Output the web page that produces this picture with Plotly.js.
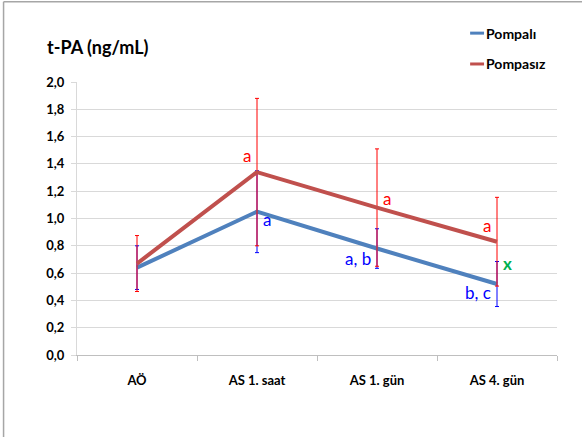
<!DOCTYPE html>
<html>
<head>
<meta charset="utf-8">
<script src="https://cdn.plot.ly/plotly-3.0.1.min.js"></script>
<style>html,body{margin:0;padding:0;background:#fff;}#chart{width:582px;height:448px;}</style>
</head>
<body>
<div id="chart"></div>
<script>
const categories = ["AÖ", "AS 1. saat", "AS 1. gün", "AS 4. gün"];
const seriesNames = ["Pompalı", "Pompasız"];
const pompaliValues = [0.64, 1.05, 0.78, 0.52];
const pompaliErrors = [0.16, 0.30, 0.145, 0.165];
const pompasizValues = [0.67, 1.34, 1.08, 0.83];
const pompasizErrors = [0.205, 0.54, 0.43, 0.325];
const yTickVals = [0, 0.2, 0.4, 0.6, 0.8, 1.0, 1.2, 1.4, 1.6, 1.8, 2.0];
const yTickText = ["0,0", "0,2", "0,4", "0,6", "0,8", "1,0", "1,2", "1,4", "1,6", "1,8", "2,0"];
const labels = [
  {cat: 1, y: 1.34, text: "a", color: "#FF0000", side: "left", dy: 0.12},
  {cat: 1, y: 1.05, text: "a", color: "#0000FF", side: "right", dy: -0.06},
  {cat: 2, y: 0.78, text: "a, b", color: "#0000FF", side: "left", dy: -0.07},
  {cat: 2, y: 1.08, text: "a", color: "#FF0000", side: "right", dy: 0.07},
  {cat: 3, y: 0.83, text: "a", color: "#FF0000", side: "left", dy: 0.12},
  {cat: 3, y: 0.52, text: "b, c", color: "#0000FF", side: "left", dy: -0.065},
  {cat: 3, y: 0.52, text: "x", color: "#00B050", side: "right", dy: 0.15}
];
const colors = ["#4F81BD", "#C0504D"];
const font = "Lato, 'Open Sans', sans-serif";

const traces = [
  {
    x: categories, y: pompaliValues, name: seriesNames[0], type: "scatter", mode: "lines",
    line: {color: colors[0], width: 4}, showlegend: false,
    error_y: {type: "data", array: pompaliErrors, visible: true, color: "#0000FF", thickness: 1, width: 2}
  },
  {
    x: categories, y: pompasizValues, name: seriesNames[1], type: "scatter", mode: "lines",
    line: {color: colors[1], width: 4}, showlegend: false,
    error_y: {type: "data", array: pompasizErrors, visible: true, color: "#FF0000", thickness: 1, width: 2}
  }
];

const annotations = labels.map(l => ({
  x: l.cat, y: l.y + l.dy, xref: "x", yref: "y", text: l.text, showarrow: false,
  xanchor: l.side === "left" ? "right" : "left", xshift: l.side === "left" ? -4 : 4,
  font: {family: font, size: 17, color: l.color, weight: l.text === "x" ? "bold" : "normal"}
}));
annotations.push({
  x: -0.066, y: 1.13, xref: "paper", yref: "paper", text: "<b>t-PA (ng/mL)</b>", showarrow: false,
  xanchor: "left", yanchor: "middle", font: {family: font, size: 18, color: "#000"}
});
// manual legend
const legendY = [1.179, 1.066];
const shapes = [
  {type: "line", xref: "paper", yref: "paper", x0: -0.153, x1: -0.153, y0: 1.294, y1: -0.3, line: {color: "#A6A6A6", width: 1.5}},
  {type: "line", xref: "paper", yref: "paper", x0: -0.153, x1: 1.1, y0: 1.294, y1: 1.294, line: {color: "#A6A6A6", width: 1.5}}
];
seriesNames.forEach((n, i) => {
  shapes.push({type: "line", xref: "paper", yref: "paper", x0: 0.819, x1: 0.848, y0: legendY[i], y1: legendY[i], line: {color: colors[i], width: 3}});
  annotations.push({x: 0.848, y: legendY[i], xref: "paper", yref: "paper", text: "<b>" + n + "</b>", showarrow: false,
    xanchor: "left", yanchor: "middle", font: {family: font, size: 14, color: "#000"}});
});

const layout = {
  width: 582, height: 448,
  margin: {l: 77, r: 25, t: 82, b: 93},
  paper_bgcolor: "#fff", plot_bgcolor: "#fff",
  showlegend: false,
  xaxis: {
    type: "category", range: [-0.5, 3.5], tickson: "boundaries", ticks: "outside", ticklen: 5,
    tickcolor: "#BFBFBF", showline: true, linecolor: "#BFBFBF", linewidth: 1, showgrid: false,
    tickfont: {family: font, size: 13, color: "#000", weight: "bold"}, zeroline: false, ticklabelstandoff: 13
  },
  yaxis: {
    range: [0, 2.0], tickvals: yTickVals, ticktext: yTickText, ticks: "outside", ticklen: 5,
    tickcolor: "#D9D9D9", showline: true, linecolor: "#D9D9D9", gridcolor: "#D9D9D9", gridwidth: 1,
    tickfont: {family: font, size: 13, color: "#000", weight: "bold"}, zeroline: false, ticklabelstandoff: 4
  },
  annotations: annotations,
  shapes: shapes,
  font: {family: font}
};

Plotly.newPlot("chart", traces, layout, {displayModeBar: false, staticPlot: true});
</script>
</body>
</html>
